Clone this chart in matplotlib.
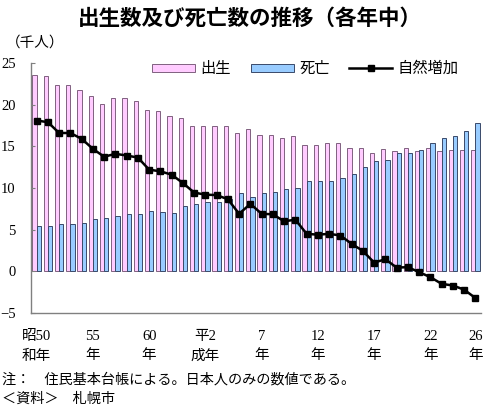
import matplotlib.pyplot as plt
import numpy as np
from matplotlib.patches import Patch
from matplotlib.lines import Line2D

# 札幌市 出生数・死亡数・自然増加 (千人), 昭和50年〜平成26年
years = list(range(1975, 2015))

births = [23.6, 23.4, 22.4, 22.4, 21.8, 21.1, 20.1, 20.8, 20.8, 20.5,
          19.4, 19.2, 18.7, 18.4, 17.5, 17.5, 17.5, 17.5, 16.6, 17.1,
          16.4, 16.4, 15.95, 16.2, 15.2, 15.2, 15.35, 15.4, 14.85, 14.75,
          14.15, 14.65, 14.5, 14.75, 14.5, 14.75, 14.4, 14.55, 14.6, 14.55]

deaths = [5.45, 5.5, 5.7, 5.7, 5.85, 6.3, 6.45, 6.7, 6.9, 6.85,
          7.2, 7.1, 7.05, 7.8, 8.05, 8.3, 8.3, 8.7, 9.45, 8.9,
          9.4, 9.5, 9.85, 10.05, 10.8, 10.9, 10.8, 11.2, 11.7, 12.5,
          13.2, 13.35, 14.15, 14.25, 14.6, 15.45, 15.95, 16.25, 16.85, 17.75]

natural = [18.1, 17.9, 16.6, 16.6, 15.9, 14.7, 13.75, 14.1, 13.9, 13.65,
           12.2, 12.0, 11.6, 10.6, 9.45, 9.2, 9.15, 8.65, 6.9, 8.1,
           6.9, 6.85, 6.0, 6.2, 4.5, 4.4, 4.5, 4.3, 3.3, 2.45,
           1.05, 1.45, 0.45, 0.5, -0.1, -0.7, -1.5, -1.7, -2.2, -3.2]

tick_pos = [0, 5, 10, 15, 20, 25, 30, 35, 39]
tick_labels = ['昭50\n和年', '55\n年', '60\n年', '平2\n成年', '7\n年',
               '12\n年', '17\n年', '22\n年', '26\n年']

plt.rcParams['font.family'] = ['Liberation Serif', 'Noto Sans CJK JP']
plt.rcParams['axes.unicode_minus'] = True

pink = '#FFCCFF'
blue = '#99CCFF'

fig = plt.figure(figsize=(4.86, 4.08), dpi=100)
ax = fig.add_axes([31 / 486, 1 - 313 / 408, 450 / 486, 250 / 408])

x = np.arange(len(years))
w = 0.375
ax.bar(x - w / 2, births, w, color=pink, edgecolor='#806080', linewidth=0.7)
ax.bar(x + w / 2, deaths, w, color=blue, edgecolor='#3A4A6A', linewidth=0.7)
ax.plot(x, natural, color='black', lw=1.8, marker='s', ms=3.8, zorder=5)

ax.set_xlim(-0.5, 39.5)
ax.set_ylim(-5, 25)
ax.set_yticks([-5, 0, 5, 10, 15, 20, 25])
ax.tick_params(axis='y', direction='in', length=3, pad=11, labelsize=10.5,
               color='#808080')
ax.set_xticks(tick_pos)
ax.set_xticklabels(tick_labels, linespacing=1.65)
ax.tick_params(axis='x', length=0, pad=12, labelsize=10.5)

for s in ['top', 'right']:
    ax.spines[s].set_visible(False)
for s in ['left', 'bottom']:
    ax.spines[s].set_color('#808080')
    ax.spines[s].set_linewidth(1.0)

handles = [Patch(facecolor=pink, edgecolor='#806080', linewidth=0.7),
           Patch(facecolor=blue, edgecolor='#3A4A6A', linewidth=0.7),
           Line2D([], [], color='black', lw=1.8, marker='s', ms=3.8)]
ax.legend(handles, ['出生', '死亡', '自然増加'], ncol=3, frameon=False,
          loc='center', bbox_to_anchor=(0.61, 0.976), fontsize=11,
          handlelength=2.8, handleheight=0.45, handletextpad=0.35,
          columnspacing=1.3, borderaxespad=0)

fig.text(250 / 486, 1 - 18 / 408, '出生数及び死亡数の推移（各年中）',
         ha='center', va='center', fontsize=15.5, fontweight='bold',
         family='Noto Sans CJK JP')
fig.text(6 / 486, 1 - 43 / 408, '（千人）', ha='left', va='center', fontsize=10.5)
fig.text(2 / 486, 1 - 380 / 408, '注：　住民基本台帳による。日本人のみの数値である。',
         ha='left', va='center', fontsize=10.2)
fig.text(2 / 486, 1 - 399 / 408, '＜資料＞　札幌市', ha='left', va='center',
         fontsize=10.2)

fig.savefig('out.png', dpi=100, facecolor='white')
